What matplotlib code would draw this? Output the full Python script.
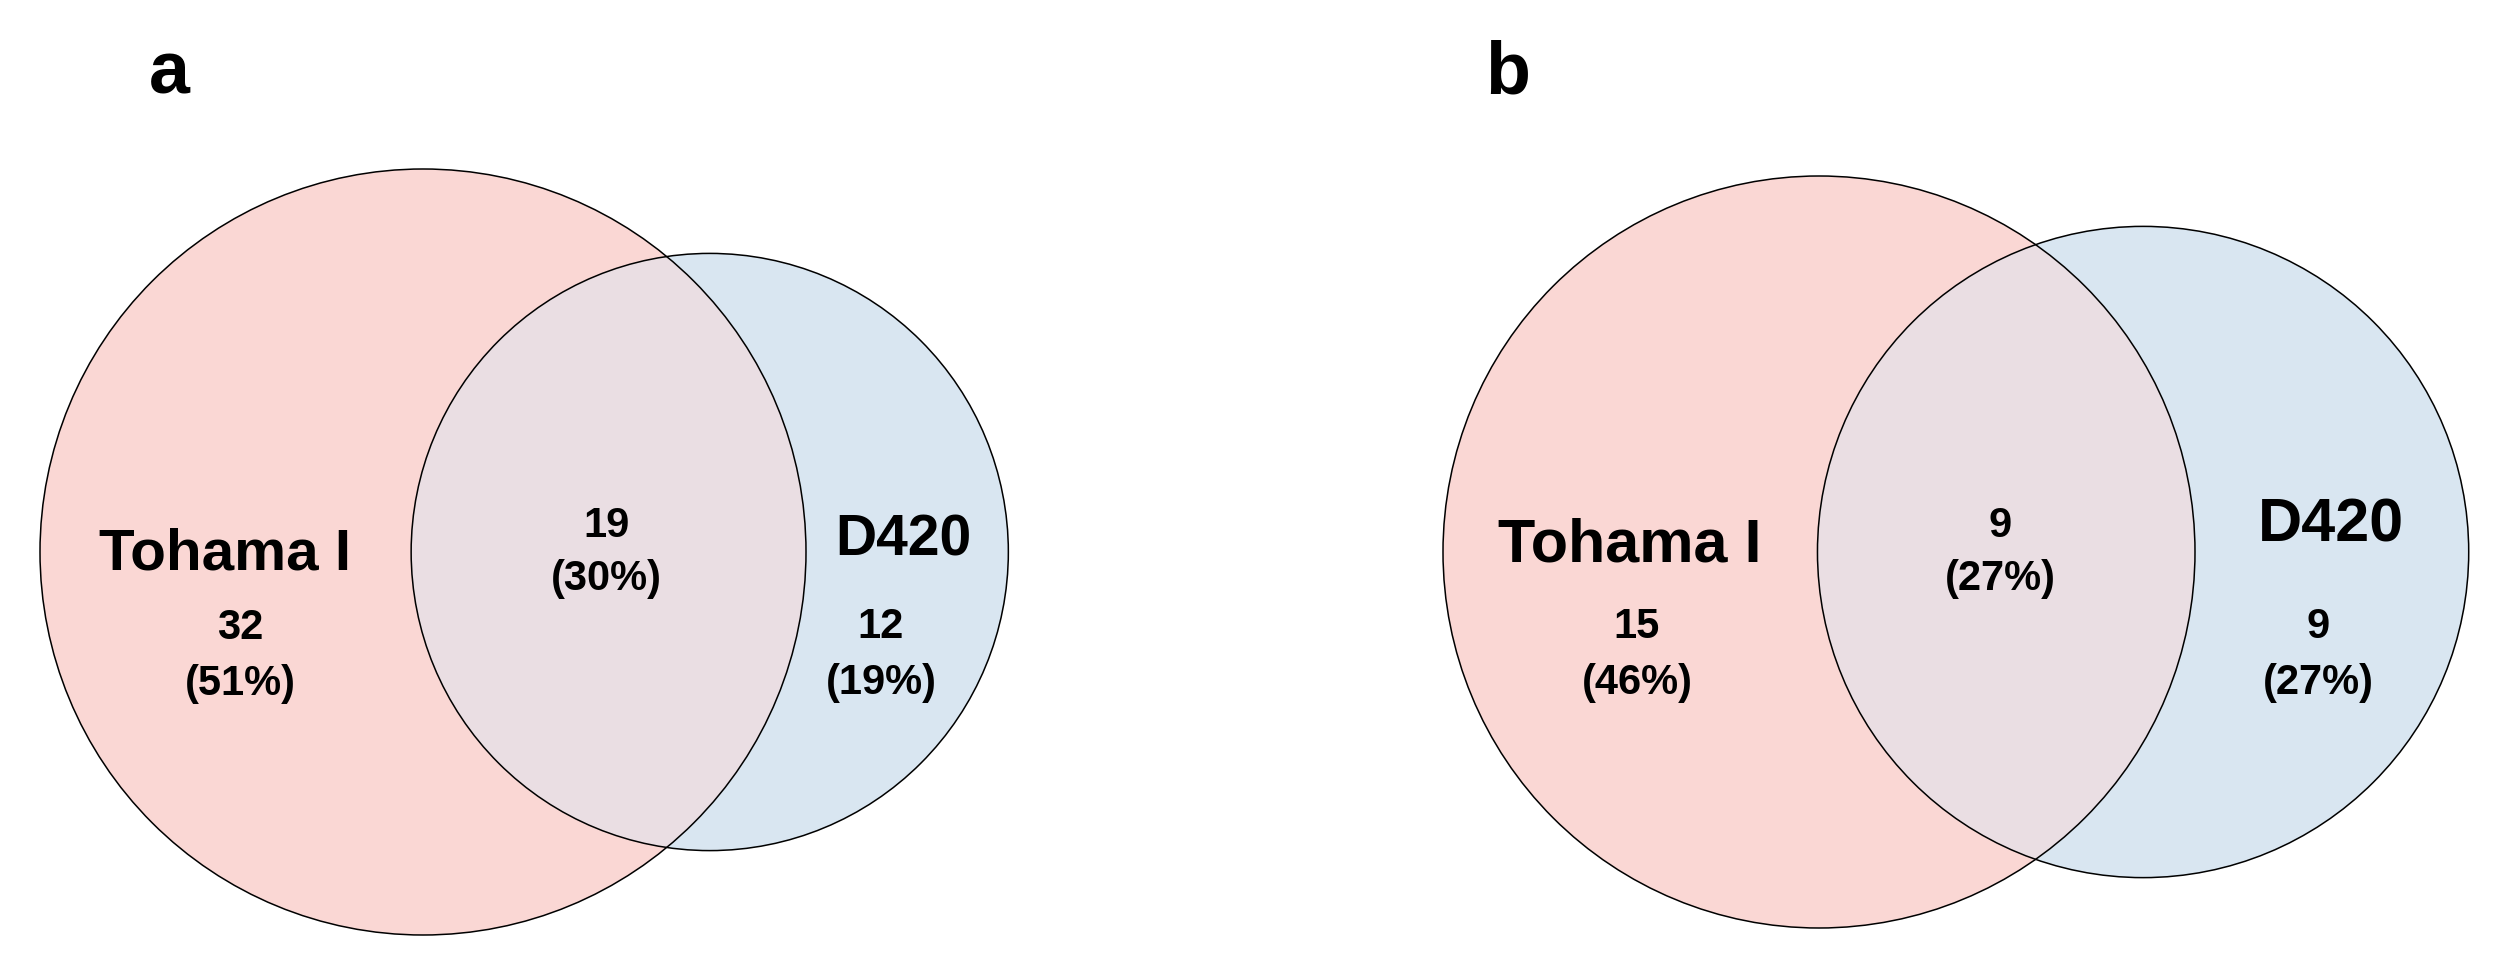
import numpy as np
import matplotlib
matplotlib.use("Agg")
import matplotlib.pyplot as plt
from matplotlib.patches import Circle

# ---------------- data ----------------
panel_letters = ["a", "b"]
set_names = ["Tohama I", "D420"]
only_tohama = [32, 15]
shared = [19, 9]
only_d420 = [12, 9]
pct_only_tohama = ["51%", "46%"]
pct_shared = ["30%", "27%"]
pct_only_d420 = ["19%", "27%"]

# ---------------- style / layout ----------------
W, H, DPI = 2502, 975, 100
col_a = "#FAD7D4"
col_b = "#D9E6F1"
col_ab = "#EADEE3"
edge = "black"
FONT = ["Liberation Sans", "DejaVu Sans"]

# per-panel layout (pixels): centre and radius of the Tohama I circle
layout = [
    dict(cx=423, cy=552, r=383,
         letter=(149, 93), letter_fs=53,
         nameA=(225, 569, 42), nameB=(903, 555, 41),
         regA=(240, 639, 695), regAB=(606, 537, 590), regB=(881, 638, 694)),
    dict(cx=1819, cy=552, r=376,
         letter=(1485, 93), letter_fs=53,
         nameA=(1630, 561, 44), nameB=(2331, 542, 44),
         regA=(1637, 638, 694), regAB=(2000, 537, 590), regB=(2318, 638, 694)),
]
num_fs = 30


def lens_area(r1, r2, d):
    if d >= r1 + r2:
        return 0.0
    if d <= abs(r1 - r2):
        return np.pi * min(r1, r2) ** 2
    a1 = np.arccos((d * d + r1 * r1 - r2 * r2) / (2 * d * r1))
    a2 = np.arccos((d * d + r2 * r2 - r1 * r1) / (2 * d * r2))
    k = np.sqrt((-d + r1 + r2) * (d + r1 - r2) * (d - r1 + r2) * (d + r1 + r2))
    return r1 * r1 * a1 + r2 * r2 * a2 - 0.5 * k


def solve_distance(r1, r2, target):
    lo, hi = abs(r1 - r2), r1 + r2
    for _ in range(200):
        mid = 0.5 * (lo + hi)
        if lens_area(r1, r2, mid) > target:
            lo = mid
        else:
            hi = mid
    return 0.5 * (lo + hi)


fig = plt.figure(figsize=(W / DPI, H / DPI), dpi=DPI)
ax = fig.add_axes([0, 0, 1, 1])
ax.set_xlim(0, W)
ax.set_ylim(H, 0)
ax.set_aspect("equal")
ax.axis("off")

for i, L in enumerate(layout):
    size_a = only_tohama[i] + shared[i]
    size_b = only_d420[i] + shared[i]
    rA = L["r"]
    rB = rA * np.sqrt(size_b / size_a)
    target = shared[i] / size_a * np.pi * rA ** 2
    d = solve_distance(rA, rB, target)
    ax_c, ay_c = L["cx"], L["cy"]
    bx_c, by_c = ax_c + d, ay_c

    cA = Circle((ax_c, ay_c), rA, facecolor=col_a, edgecolor="none", zorder=1)
    cB = Circle((bx_c, by_c), rB, facecolor=col_b, edgecolor="none", zorder=2)
    ax.add_patch(cA)
    ax.add_patch(cB)
    clipA = Circle((ax_c, ay_c), rA, transform=ax.transData, facecolor="none", edgecolor="none")
    ax.add_patch(clipA)
    cAB = Circle((bx_c, by_c), rB, facecolor=col_ab, edgecolor="none", zorder=3)
    ax.add_patch(cAB)
    cAB.set_clip_path(clipA)
    ax.add_patch(Circle((ax_c, ay_c), rA, facecolor="none", edgecolor=edge, lw=1.1, zorder=4))
    ax.add_patch(Circle((bx_c, by_c), rB, facecolor="none", edgecolor=edge, lw=1.1, zorder=4))

    # panel letter
    lx, ly = L["letter"]
    ax.text(lx, ly, panel_letters[i], fontsize=L["letter_fs"], fontweight="bold",
            family=FONT, ha="left", va="baseline", zorder=5)

    # set names
    x, y, fs = L["nameA"]
    ax.text(x, y, set_names[0], fontsize=fs, fontweight="bold", family=FONT,
            ha="center", va="baseline", zorder=5)
    x, y, fs = L["nameB"]
    ax.text(x, y, set_names[1], fontsize=fs, fontweight="bold", family=FONT,
            ha="center", va="baseline", zorder=5)

    # subset counts
    for key, cnt, pct in (("regA", only_tohama[i], pct_only_tohama[i]),
                          ("regAB", shared[i], pct_shared[i]),
                          ("regB", only_d420[i], pct_only_d420[i])):
        x, y1, y2 = L[key]
        ax.text(x, y1, str(cnt), fontsize=num_fs, fontweight="bold", family=FONT,
                ha="center", va="baseline", zorder=5)
        ax.text(x, y2, "(" + pct + ")", fontsize=num_fs, fontweight="bold", family=FONT,
                ha="center", va="baseline", zorder=5)

fig.savefig("out.png", dpi=DPI, facecolor="white")
